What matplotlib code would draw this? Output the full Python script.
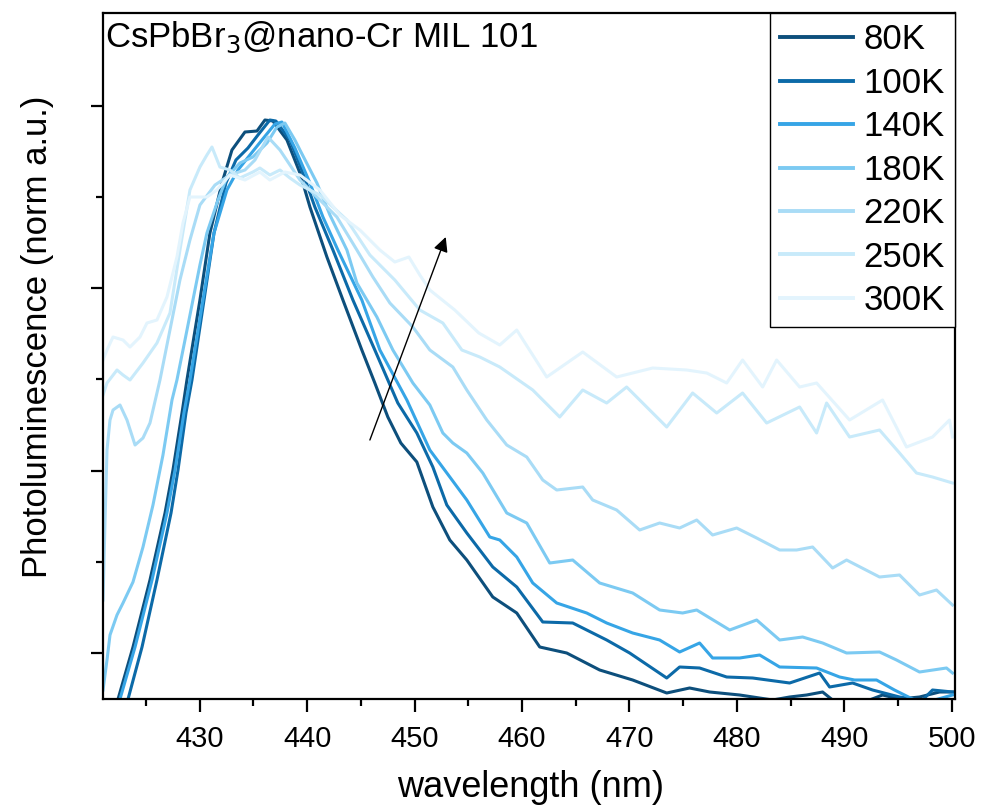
import matplotlib
matplotlib.use("Agg")
import matplotlib.pyplot as plt
from matplotlib.ticker import FixedLocator

plt.rcParams['font.family'] = ['Liberation Sans', 'DejaVu Sans']

# PL spectra (wavelength in nm, normalised intensity)
wl_80 = [422.12, 422.40, 423.79, 425.37, 426.77, 427.51, 428.35, 428.81, 430.02, 430.95,
         432.07, 433.00, 434.21, 435.33, 436.07, 436.81, 438.12, 439.33, 440.26, 441.84,
         443.33, 445.09, 446.30, 447.51, 448.72, 450.21, 451.70, 453.28, 454.86, 457.28,
         459.51, 461.65, 464.16, 467.23, 470.30, 473.47, 475.60, 477.47, 480.26, 483.33,
         484.91, 486.49, 487.98, 488.91, 490.49, 492.35, 493.56, 495.14, 497.00, 498.86, 500.26]
pl_80 = [-0.022, 0.000, 0.104, 0.238, 0.372, 0.458, 0.572, 0.638, 0.798, 0.932,
         1.032, 1.098, 1.134, 1.136, 1.158, 1.156, 1.118, 1.052, 0.984, 0.884,
         0.798, 0.698, 0.632, 0.564, 0.512, 0.474, 0.384, 0.318, 0.278, 0.204,
         0.172, 0.104, 0.092, 0.058, 0.038, 0.012, 0.022, 0.014, 0.008, -0.002,
         0.004, 0.008, 0.014, -0.002, -0.006, -0.002, 0.008, 0.000, 0.004, 0.014, 0.014]

wl_100 = [423.14, 423.33, 424.63, 426.02, 427.33, 427.98, 428.72, 429.28, 430.40, 431.33,
          432.44, 433.37, 434.49, 435.42, 436.53, 437.09, 438.40, 439.60, 440.72, 442.40,
          444.26, 446.30, 448.44, 450.21, 451.70, 453.00, 454.86, 457.28, 459.51, 461.93,
          464.72, 467.88, 470.02, 473.47, 474.67, 476.53, 479.05, 481.47, 484.91, 487.70,
          488.63, 490.77, 492.63, 495.14, 497.28, 498.21, 500.07]
pl_100 = [-0.012, 0.000, 0.104, 0.238, 0.372, 0.458, 0.572, 0.638, 0.798, 0.932,
          1.032, 1.078, 1.102, 1.128, 1.158, 1.156, 1.118, 1.052, 0.984, 0.898,
          0.798, 0.698, 0.592, 0.532, 0.464, 0.388, 0.332, 0.264, 0.224, 0.154,
          0.152, 0.118, 0.092, 0.042, 0.064, 0.062, 0.044, 0.042, 0.032, 0.052,
          0.024, 0.032, 0.018, 0.004, -0.002, 0.018, 0.014]

wl_140 = [422.30, 422.58, 423.98, 425.56, 426.95, 427.70, 428.53, 429.09, 430.30, 431.33,
          432.53, 433.56, 434.67, 435.79, 437.00, 437.65, 438.86, 440.26, 441.47, 442.86,
          445.09, 446.77, 449.28, 451.42, 453.28, 454.86, 457.00, 457.93, 459.51, 461.00,
          463.23, 466.02, 467.88, 470.30, 472.81, 474.67, 476.53, 477.74, 480.26, 482.12,
          483.98, 487.42, 489.56, 490.95, 493.00, 494.67, 496.53, 498.40, 500.07]
pl_140 = [-0.022, 0.000, 0.104, 0.238, 0.372, 0.458, 0.572, 0.638, 0.798, 0.932,
          1.018, 1.058, 1.088, 1.118, 1.150, 1.154, 1.102, 1.032, 0.964, 0.898,
          0.798, 0.698, 0.598, 0.498, 0.444, 0.398, 0.324, 0.318, 0.284, 0.232,
          0.192, 0.172, 0.152, 0.132, 0.118, 0.094, 0.112, 0.082, 0.082, 0.088,
          0.064, 0.062, 0.044, 0.038, 0.038, 0.018, -0.002, -0.002, 0.008]

wl_180 = [421.00, 421.37, 421.65, 422.30, 422.86, 423.79, 424.72, 425.65, 426.58, 427.42,
          427.88, 428.63, 429.37, 430.02, 430.67, 431.70, 432.53, 433.74, 434.95, 436.26,
          437.19, 437.93, 438.86, 439.33, 440.91, 442.12, 443.70, 444.63, 446.49, 447.98,
          449.84, 451.42, 452.63, 453.56, 454.86, 456.35, 458.58, 460.44, 462.58, 464.72,
          467.23, 470.30, 472.81, 474.95, 476.26, 479.33, 481.84, 483.98, 486.12, 487.98,
          490.21, 493.28, 494.86, 497.00, 499.51, 500.07]
pl_180 = [0.018, 0.078, 0.128, 0.168, 0.192, 0.234, 0.304, 0.388, 0.488, 0.598,
          0.638, 0.718, 0.798, 0.868, 0.932, 0.998, 1.044, 1.072, 1.084, 1.112,
          1.144, 1.152, 1.118, 1.098, 1.032, 0.968, 0.898, 0.832, 0.764, 0.698,
          0.632, 0.588, 0.532, 0.512, 0.492, 0.452, 0.372, 0.352, 0.272, 0.278,
          0.232, 0.212, 0.178, 0.172, 0.178, 0.138, 0.158, 0.118, 0.124, 0.112,
          0.092, 0.094, 0.078, 0.054, 0.062, 0.052]

wl_220 = [421.00, 421.19, 421.37, 421.65, 421.93, 422.58, 423.23, 423.98, 424.72, 425.37,
          426.30, 427.23, 428.16, 429.09, 430.02, 431.42, 432.81, 434.21, 435.14, 436.35,
          437.47, 438.40, 439.33, 441.19, 442.77, 444.63, 446.12, 447.70, 449.84, 451.42,
          453.56, 454.86, 456.72, 458.58, 460.44, 461.93, 463.23, 465.65, 466.58, 468.81,
          470.95, 472.81, 474.67, 476.26, 477.74, 479.98, 481.84, 483.98, 485.56, 487.05,
          488.91, 490.21, 493.28, 495.14, 497.00, 498.58, 500.07]
pl_220 = [0.198, 0.358, 0.498, 0.558, 0.578, 0.588, 0.558, 0.508, 0.522, 0.552,
          0.638, 0.738, 0.838, 0.918, 0.988, 1.028, 1.048, 1.058, 1.078, 1.124,
          1.098, 1.068, 1.038, 0.998, 0.964, 0.898, 0.844, 0.792, 0.744, 0.698,
          0.664, 0.618, 0.558, 0.508, 0.484, 0.438, 0.418, 0.424, 0.398, 0.378,
          0.338, 0.352, 0.342, 0.358, 0.328, 0.342, 0.322, 0.298, 0.298, 0.304,
          0.262, 0.278, 0.244, 0.248, 0.208, 0.218, 0.188]

wl_250 = [421.00, 421.37, 422.30, 422.86, 423.51, 424.72, 426.02, 427.23, 428.16, 429.09,
          430.02, 430.67, 431.14, 431.88, 432.81, 433.74, 434.95, 435.60, 436.53, 437.47,
          438.40, 439.33, 441.19, 443.70, 445.84, 448.16, 450.49, 452.63, 454.40, 456.07,
          457.93, 461.00, 463.51, 465.65, 467.88, 469.74, 473.47, 475.88, 478.12, 480.53,
          482.77, 485.84, 487.42, 488.35, 490.49, 493.28, 495.14, 496.72, 498.21, 500.07]
pl_250 = [0.608, 0.632, 0.658, 0.648, 0.638, 0.672, 0.712, 0.772, 0.898, 1.018,
          1.064, 1.088, 1.104, 1.064, 1.058, 1.042, 1.054, 1.062, 1.048, 1.058,
          1.042, 1.028, 1.008, 0.958, 0.888, 0.838, 0.778, 0.752, 0.698, 0.684,
          0.664, 0.618, 0.564, 0.618, 0.592, 0.624, 0.544, 0.612, 0.572, 0.612,
          0.552, 0.584, 0.532, 0.592, 0.524, 0.538, 0.492, 0.452, 0.444, 0.432]

wl_300 = [421.00, 421.37, 421.93, 422.86, 423.51, 424.44, 425.09, 426.02, 426.95, 427.88,
          428.44, 429.09, 430.67, 431.60, 432.81, 434.21, 435.60, 436.53, 437.93, 439.33,
          441.19, 443.05, 444.91, 446.77, 448.16, 449.47, 450.49, 451.42, 453.74, 455.98,
          457.93, 459.51, 462.30, 465.65, 468.81, 472.16, 475.33, 477.19, 479.05, 480.53,
          482.40, 483.70, 485.84, 487.42, 490.49, 493.56, 495.79, 498.21, 499.79, 500.07]
pl_300 = [0.678, 0.698, 0.724, 0.718, 0.704, 0.724, 0.752, 0.758, 0.804, 0.884,
          0.952, 1.004, 1.004, 1.018, 1.048, 1.038, 1.054, 1.038, 1.054, 1.048,
          1.018, 0.968, 0.938, 0.898, 0.874, 0.884, 0.848, 0.818, 0.778, 0.732,
          0.708, 0.738, 0.644, 0.694, 0.644, 0.662, 0.658, 0.652, 0.632, 0.678,
          0.624, 0.678, 0.624, 0.632, 0.558, 0.598, 0.504, 0.524, 0.558, 0.524]

temps = ['80K', '100K', '140K', '180K', '220K', '250K', '300K']
colors = ['#0d4f7c', '#0c6aa8', '#36a5e6', '#7ccaf2', '#a9dcf6', '#c8eafa', '#e3f4fd']

# temperature-trend arrow (tail -> head)
arrow_start = (445.84, 0.518)
arrow_end = (452.9, 0.924)

fig = plt.figure(figsize=(9.84, 8.08), dpi=100)
ax = fig.add_axes([0.1047, 0.1349, 0.8658, 0.849])

series = [(wl_80, pl_80), (wl_100, pl_100), (wl_140, pl_140), (wl_180, pl_180),
          (wl_220, pl_220), (wl_250, pl_250), (wl_300, pl_300)]
for (x, y), t, c in zip(series, temps, colors):
    ax.plot(x, y, color=c, lw=2.2, label=t)

ax.annotate('', xy=arrow_end, xytext=arrow_start,
            arrowprops=dict(arrowstyle='-|>', color='black', lw=1.0,
                            mutation_scale=22, shrinkA=0, shrinkB=0))

ax.text(0.002, 0.99, r'CsPbBr$_3$@nano-Cr MIL 101', transform=ax.transAxes,
        ha='left', va='top', fontsize=25)

ax.set_xlim(421, 500.3)
ax.set_ylim(0, 1.372)
ax.set_xticks([430, 440, 450, 460, 470, 480, 490, 500])
ax.xaxis.set_minor_locator(FixedLocator([425, 435, 445, 455, 465, 475, 485, 495]))
ax.set_yticks([0.092, 0.457, 0.822, 1.187])
ax.yaxis.set_minor_locator(FixedLocator([0.274, 0.640, 1.004]))
ax.set_yticklabels([])

ax.tick_params(which='major', direction='out', length=9, width=1.6, labelsize=21,
               top=False, right=False, pad=10)
ax.tick_params(which='minor', direction='out', length=5, width=1.6, top=False, right=False)
for s in ax.spines.values():
    s.set_linewidth(1.6)

ax.set_xlabel('wavelength (nm)', fontsize=26)
ax.set_ylabel('Photoluminescence (norm a.u.)', fontsize=25)
ax.xaxis.set_label_coords(0.502, -0.104)
ax.yaxis.set_label_coords(-0.058, 0.528)

leg = ax.legend(loc='upper right', fontsize=25, frameon=True, fancybox=False,
                edgecolor='black', framealpha=1, borderaxespad=0, borderpad=0.3,
                handlelength=2.1, handletextpad=0.3, labelspacing=0.3)
leg.get_frame().set_linewidth(1.0)
for h in leg.get_lines():
    h.set_linewidth(2.8)

fig.savefig('out.png', dpi=100)
